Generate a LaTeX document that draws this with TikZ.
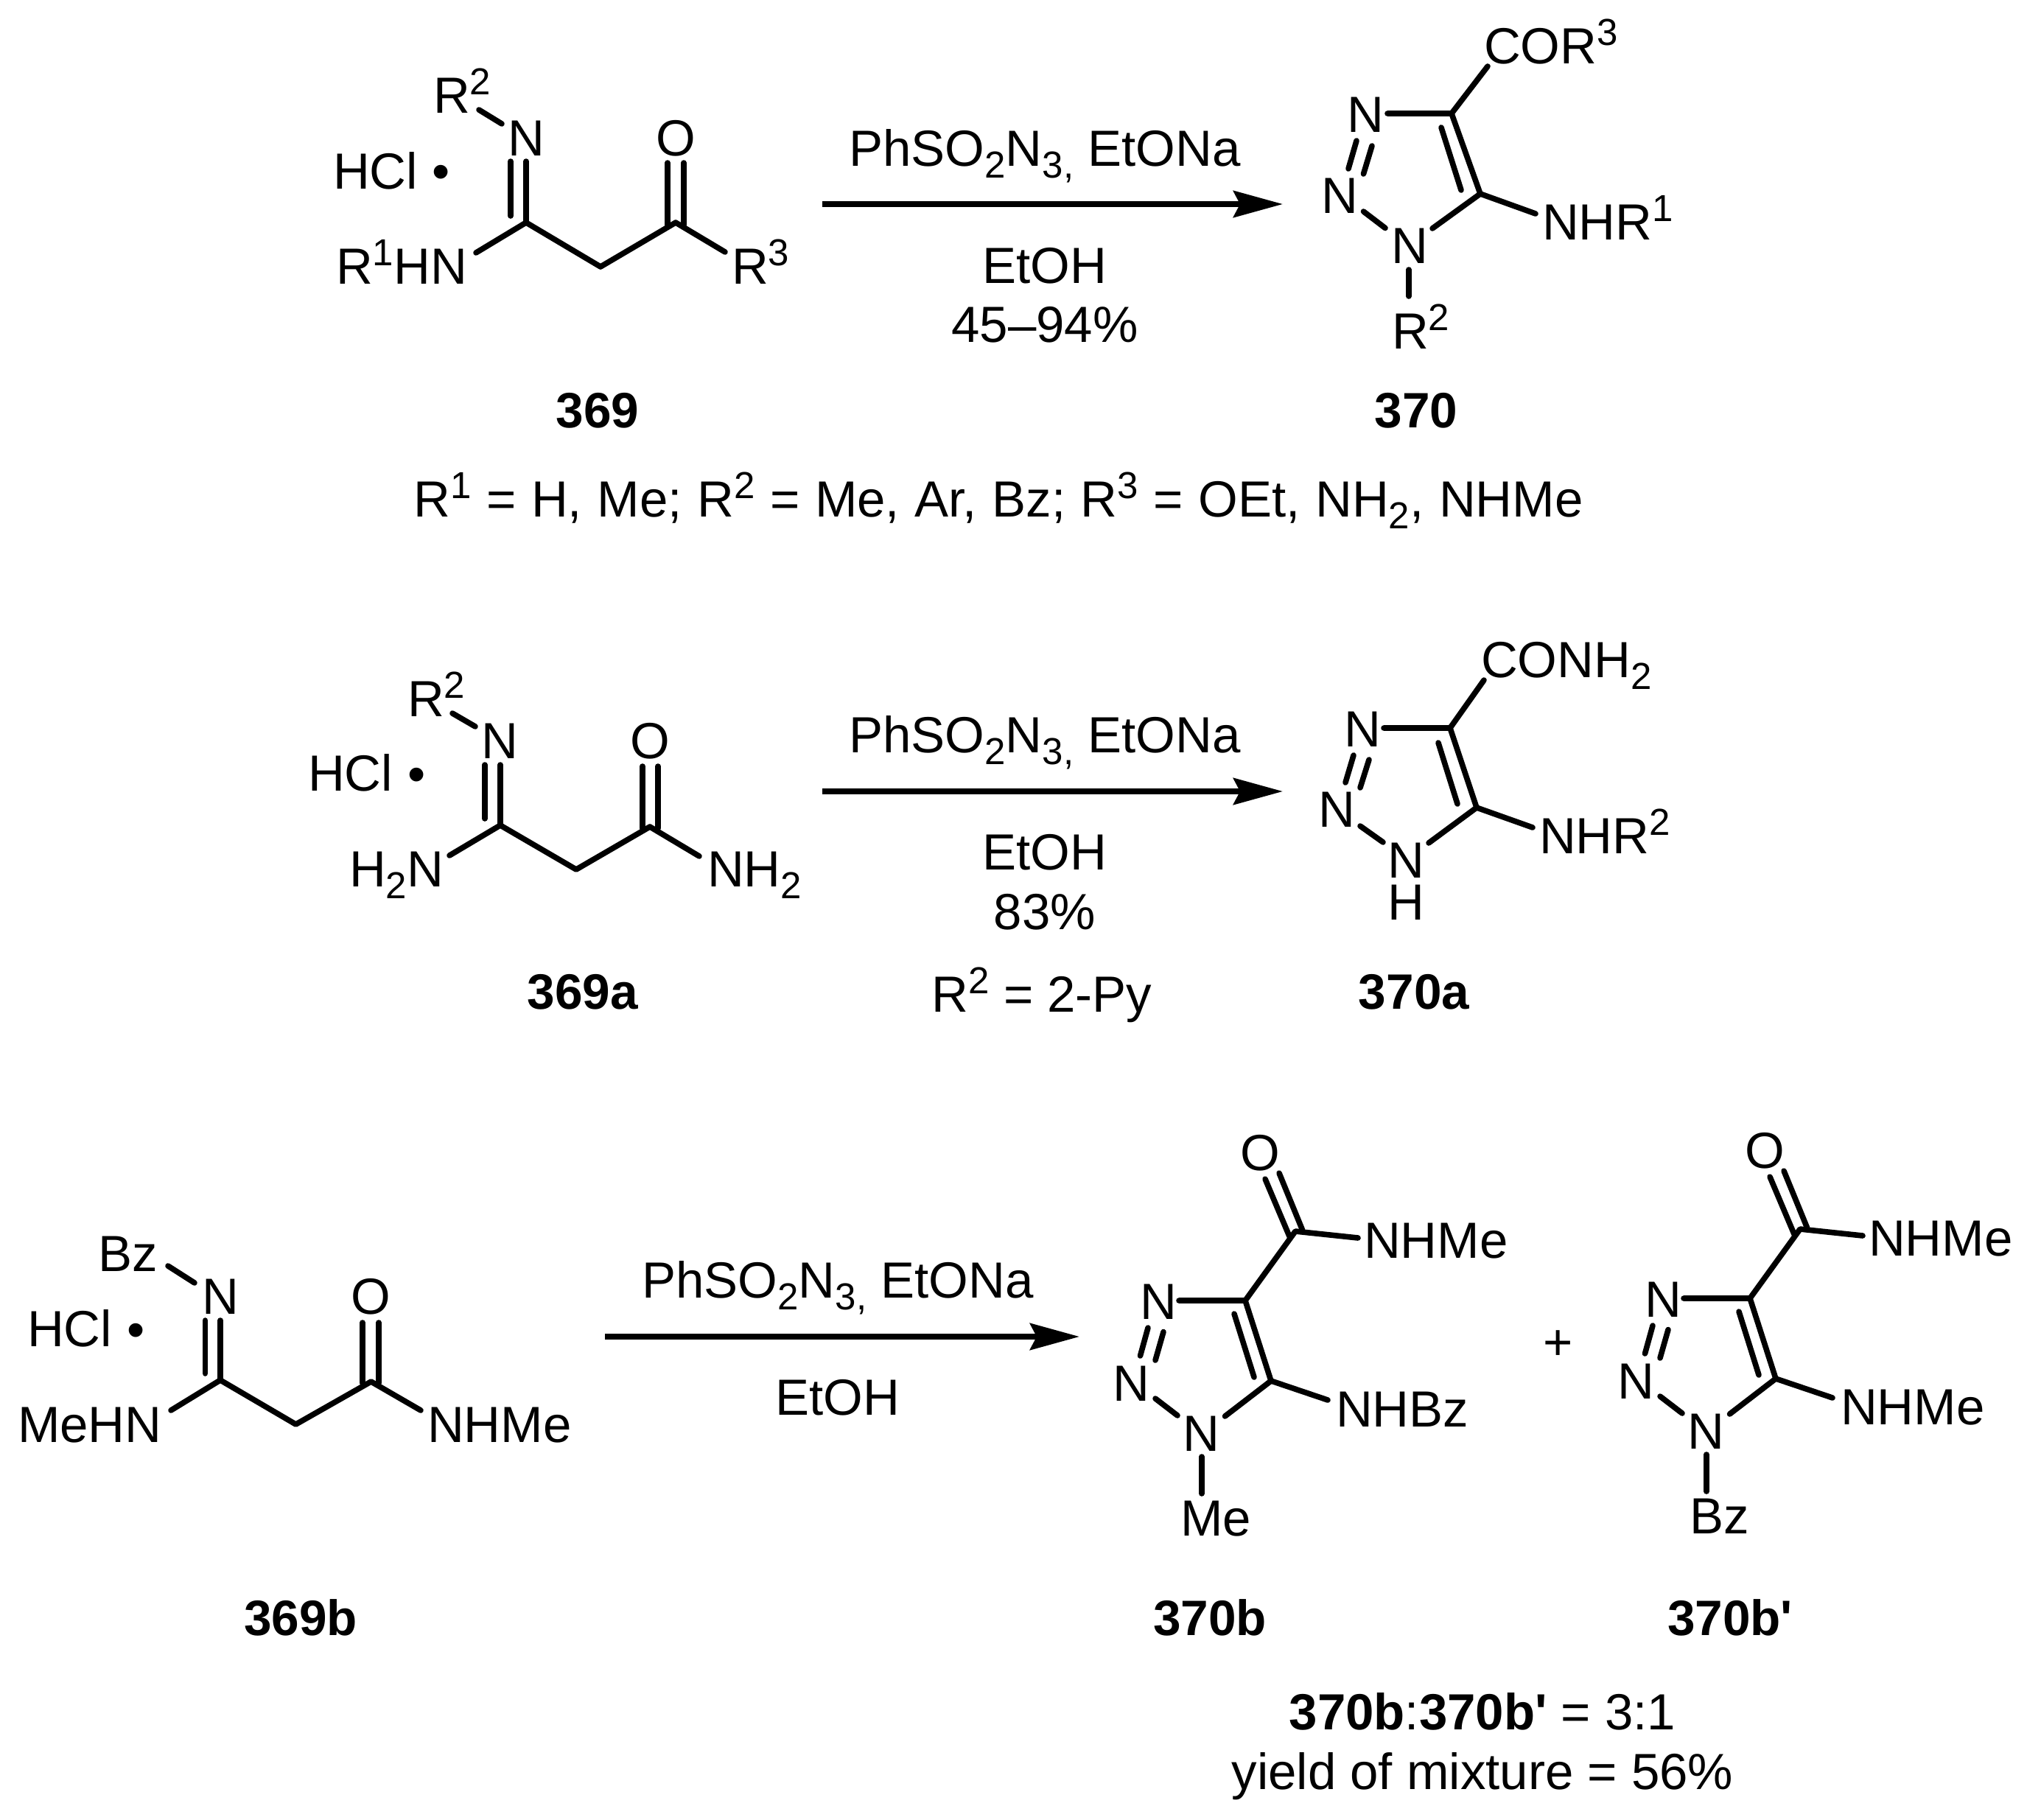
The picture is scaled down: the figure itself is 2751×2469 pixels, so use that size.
\documentclass[tikz,border=0pt]{standalone}
\usepackage{fontspec}
\setmainfont{Liberation Sans}
\usetikzlibrary{arrows.meta}
\newcommand{\chemfont}{\fontsize{69}{80}\selectfont}
\newcommand{\numfont}{\fontsize{67.5}{80}\selectfont\bfseries}
\newcommand{\sups}[1]{\raisebox{25pt}{\fontsize{51}{51}\selectfont #1}}
\newcommand{\subs}[1]{\raisebox{-16pt}{\fontsize{51}{51}\selectfont #1}}
\newcommand{\reagent}{PhSO\subs{2}N\subs{3,} EtONa}
\tikzset{
  every node/.style={inner sep=0pt,outer sep=0pt,font=\chemfont,text=black},
  lt/.style={anchor=base west},
  ct/.style={anchor=base},
  num/.style={anchor=base,font=\numfont},
  bond/.style={line width=7.6pt,line cap=round,line join=round},
  rxn/.style={line width=8pt,-{Stealth[length=67pt,width=36pt,inset=9pt]}}
}
% shared part of the 1-substituted triazole with the carboxamide of 370b / 370b'
\newcommand{\amidering}{%
  \coordinate (ca) at (1758,1671);
  \coordinate (c4) at (1690,1765);
  \coordinate (c5) at (1725,1874);
  \node[ct] (o) at (1710,1588) {O};
  \node[lt] (nhme) at (1851,1707) {NHMe};
  \node[ct] (n3) at (1572.5,1790) {N};
  \node[ct] (n2) at (1535,1901) {N};
  \node[ct] (n1) at (1630,1969) {N};
  \coordinate (oa) at (1717,1600); \coordinate (oa2) at (1750,1678);
  \coordinate (ob) at (1736,1592); \coordinate (ob2) at (1767.5,1669);
  \coordinate (ne) at (1843,1680);
  \coordinate (n3e) at (1600,1765);
  \coordinate (ia) at (1675,1783); \coordinate (ib) at (1702,1869);
  \coordinate (ce) at (1802,1900);
  \coordinate (n1e) at (1662.5,1922);
  \coordinate (n2a) at (1568,1898); \coordinate (n1a) at (1598,1921);
  \coordinate (da1) at (1558,1802); \coordinate (da2) at (1547.5,1840);
  \coordinate (db1) at (1579,1807.5); \coordinate (db2) at (1568,1846);
  \coordinate (sa) at (1631,1977); \coordinate (sb) at (1631,2027);
  \draw[bond] (oa)--(oa2);
  \draw[bond] (ob)--(ob2);
  \draw[bond] (ne)--(ca)--(c4)--(n3e);
  \draw[bond] (c4)--(c5)--(ce);
  \draw[bond] (c5)--(n1e);
  \draw[bond] (ia)--(ib);
  \draw[bond] (n2a)--(n1a);
  \draw[bond] (da1)--(da2);
  \draw[bond] (db1)--(db2);
  \draw[bond] (sa)--(sb);
}
\begin{document}
\begin{tikzpicture}[x=1pt,y=-1pt]
\useasboundingbox (0,0) rectangle (2751,2469);
%% ---------- 369
\node[ct] (a-n) at (714,211) {N};
\node[ct] (a-o) at (917,211) {O};
\node[lt] (a-r2) at (588,153) {R\sups{2}};
\node[lt] (a-hcl) at (452,256) {HCl};
\node[ct] (a-dot) at (599,256) {•};
\node[lt] (a-nh) at (456,385) {R\sups{1}HN};
\node[lt] (a-r3) at (993,385) {R\sups{3}};
\node[num] (a-num) at (811,580) {369};
\coordinate (a1) at (714,302); \coordinate (a2) at (815,362); \coordinate (a3) at (917,302);
\coordinate (a4) at (984,342); \coordinate (a5) at (646,343);
\coordinate (a6) at (714,219); \coordinate (a7) at (693,219); \coordinate (a8) at (693,293);
\coordinate (a9) at (650,149); \coordinate (a10) at (681,168);
\coordinate (a11) at (906,221); \coordinate (a12) at (906,305);
\coordinate (a13) at (928,221); \coordinate (a14) at (928,305);
\draw[bond] (a5)--(a1)--(a2)--(a3)--(a4);
\draw[bond] (a1)--(a6);
\draw[bond] (a7)--(a8);
\draw[bond] (a9)--(a10);
\draw[bond] (a11)--(a12);
\draw[bond] (a13)--(a14);
%% ---------- arrow 1
\coordinate (r1s) at (1116,277); \coordinate (r1e) at (1741,277);
\draw[rxn] (r1s)--(r1e);
\node[ct] (r1a) at (1418,225) {\reagent};
\node[ct] (r1b) at (1418,384) {EtOH};
\node[ct] (r1c) at (1418,464) {45–94\%};
\node[ct] (r1d) at (1355,701) {\spaceskip=20.6pt R\sups{1} = H, Me; R\sups{2} = Me, Ar, Bz; R\sups{3} = OEt, NH\subs{2}, NHMe};
%% ---------- 370
\node[ct] (b-n3) at (1853.6,179) {N};
\node[ct] (b-n2) at (1818,289) {N};
\node[ct] (b-n1) at (1913,357) {N};
\node[lt] (b-nh) at (2093,325) {NHR\sups{1}};
\node[lt] (b-r2) at (1889,473) {R\sups{2}};
\node[lt] (b-co) at (2014,86) {COR\sups{3}};
\node[num] (b-num) at (1922,580) {370};
\coordinate (b1) at (1970,154); \coordinate (b2) at (2009,263); \coordinate (b3) at (1883,154);
\coordinate (b4) at (2019,90); \coordinate (b5) at (1956,173); \coordinate (b6) at (1983,258);
\coordinate (b7) at (2084,290); \coordinate (b8) at (1944,310);
\coordinate (b9) at (1850.5,287); \coordinate (b10) at (1880,309.5);
\coordinate (b11) at (1841,191); \coordinate (b12) at (1830,229);
\coordinate (b13) at (1862,198); \coordinate (b14) at (1850.5,236);
\coordinate (b15) at (1912,366); \coordinate (b16) at (1912,402);
\draw[bond] (b4)--(b1)--(b3);
\draw[bond] (b1)--(b2)--(b7);
\draw[bond] (b2)--(b8);
\draw[bond] (b5)--(b6);
\draw[bond] (b9)--(b10);
\draw[bond] (b11)--(b12);
\draw[bond] (b13)--(b14);
\draw[bond] (b15)--(b16);
%% ---------- 369a
\node[ct] (c-n) at (678,1029) {N};
\node[ct] (c-o) at (882,1029) {O};
\node[lt] (c-r2) at (553,972) {R\sups{2}};
\node[lt] (c-hcl) at (418,1073) {HCl};
\node[ct] (c-dot) at (566,1074) {•};
\node[lt] (c-nh) at (474,1203) {H\subs{2}N};
\node[lt] (c-nh2) at (960,1203) {NH\subs{2}};
\node[num] (c-num) at (791,1369) {369a};
\coordinate (c1) at (679,1120); \coordinate (c2) at (782,1180); \coordinate (c3) at (882,1122);
\coordinate (c4) at (949,1162); \coordinate (c5) at (610,1161);
\coordinate (c6) at (679,1038); \coordinate (c7) at (658,1038); \coordinate (c8) at (658,1111);
\coordinate (c9) at (614,968); \coordinate (c10) at (645,986);
\coordinate (c11) at (872,1040); \coordinate (c12) at (872,1124);
\coordinate (c13) at (893,1040); \coordinate (c14) at (893,1124);
\draw[bond] (c5)--(c1)--(c2)--(c3)--(c4);
\draw[bond] (c1)--(c6);
\draw[bond] (c7)--(c8);
\draw[bond] (c9)--(c10);
\draw[bond] (c11)--(c12);
\draw[bond] (c13)--(c14);
%% ---------- arrow 2
\coordinate (r2s) at (1116,1074); \coordinate (r2e) at (1741,1074);
\draw[rxn] (r2s)--(r2e);
\node[ct] (r2a) at (1418,1021) {\reagent};
\node[ct] (r2b) at (1418,1180) {EtOH};
\node[ct] (r2c) at (1418,1261) {83\%};
\node[ct] (r2d) at (1414,1373) {R\sups{2} = 2-Py};
%% ---------- 370a
\node[ct] (d-n3) at (1849,1013) {N};
\node[ct] (d-n2) at (1814,1122) {N};
\node[ct] (d-n1) at (1908,1191) {N};
\node[ct] (d-h) at (1908,1248) {H};
\node[lt] (d-nh) at (2089,1158) {NHR\sups{2}};
\node[lt] (d-co) at (2010,919) {CONH\subs{2}};
\node[num] (d-num) at (1919,1369) {370a};
\coordinate (d1) at (1968,988); \coordinate (d2) at (2004,1096); \coordinate (d3) at (1878,988);
\coordinate (d4) at (2014,923); \coordinate (d5) at (1952,1008); \coordinate (d6) at (1978,1091);
\coordinate (d7) at (2080,1123); \coordinate (d8) at (1939,1144);
\coordinate (d9) at (1846,1121); \coordinate (d10) at (1877,1143);
\coordinate (d11) at (1837,1025); \coordinate (d12) at (1826,1062);
\coordinate (d13) at (1858,1031); \coordinate (d14) at (1846,1069);
\draw[bond] (d4)--(d1)--(d3);
\draw[bond] (d1)--(d2)--(d7);
\draw[bond] (d2)--(d8);
\draw[bond] (d5)--(d6);
\draw[bond] (d9)--(d10);
\draw[bond] (d11)--(d12);
\draw[bond] (d13)--(d14);
%% ---------- 369b
\node[ct] (e-n) at (299,1783) {N};
\node[ct] (e-o) at (503.6,1783) {O};
\node[lt] (e-bz) at (133.5,1725) {Bz};
\node[lt] (e-hcl) at (37,1827) {HCl};
\node[ct] (e-dot) at (184.6,1828) {•};
\node[lt] (e-nh) at (24,1957) {MeHN};
\node[lt] (e-nhme) at (580,1957) {NHMe};
\node[num] (e-num) at (408,2219) {369b};
\coordinate (e1) at (299,1873); \coordinate (e2) at (401.5,1933); \coordinate (e3) at (503.6,1875);
\coordinate (e4) at (571,1914); \coordinate (e5) at (232,1914);
\coordinate (e6) at (299,1792); \coordinate (e7) at (278.5,1792); \coordinate (e8) at (278.5,1864);
\coordinate (e9) at (228,1718); \coordinate (e10) at (264,1741);
\coordinate (e11) at (492,1795); \coordinate (e12) at (492,1877);
\coordinate (e13) at (514,1795); \coordinate (e14) at (514,1877);
\draw[bond] (e5)--(e1)--(e2)--(e3)--(e4);
\draw[bond] (e1)--(e6);
\draw[bond] (e7)--(e8);
\draw[bond] (e9)--(e10);
\draw[bond] (e11)--(e12);
\draw[bond] (e13)--(e14);
%% ---------- arrow 3
\coordinate (r3s) at (821,1814); \coordinate (r3e) at (1465,1814);
\draw[rxn] (r3s)--(r3e);
\node[ct] (r3a) at (1137,1761) {\reagent};
\node[ct] (r3b) at (1137,1920) {EtOH};
%% ---------- 370b
\begin{scope}[name prefix=f-]
  \amidering
  \node[lt] (nhbz) at (1813,1936) {NHBz};
  \node[lt] (me) at (1602,2084) {Me};
\end{scope}
\node[num] (f-num) at (1642,2219) {370b};
%% ---------- plus
\node[anchor=center] (plus) at (2115,1826) {+};
%% ---------- 370b'
\begin{scope}[shift={(685,-3)},name prefix=g-]
  \amidering
  \node[lt] (nhme2) at (1813,1936) {NHMe};
  \node[lt] (bz) at (1608,2084) {Bz};
\end{scope}
\node[num] (g-num) at (2348,2219) {370b\textquotesingle};
%% ---------- ratio
\node[ct] (h-a) at (2012,2347.5) {\textbf{370b}:\textbf{370b\textquotesingle} = 3:1};
\node[ct] (h-b) at (2012,2428) {yield of mixture = 56\%};
\end{tikzpicture}
\end{document}
